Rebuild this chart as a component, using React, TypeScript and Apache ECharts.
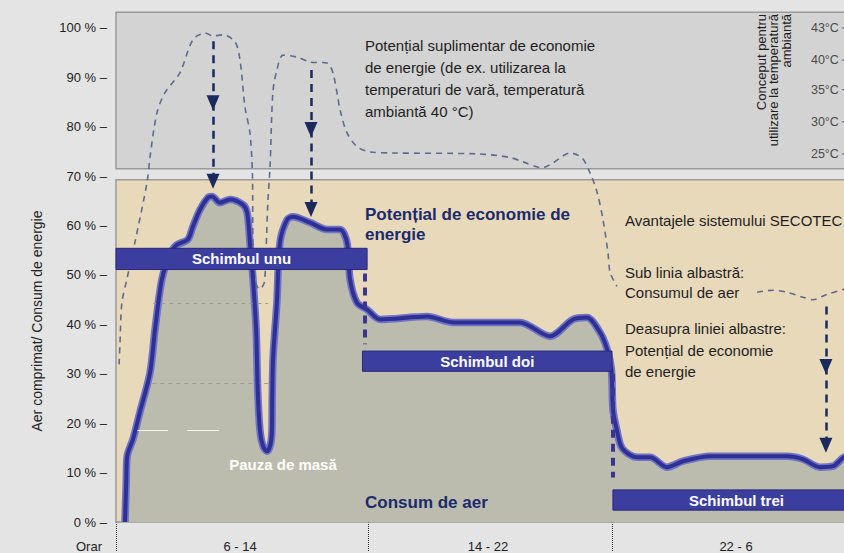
import React, { useEffect, useRef } from 'react';
import * as echarts from 'echarts';

const FONT = '"Liberation Sans", Arial, Helvetica, sans-serif';

// x axis: hours from start of first shift (0..24), y axis: percent
const shiftLabels = ['6 - 14', '14 - 22', '22 - 6'];
const shiftLabelHours = [4, 12, 20];
const shiftBoundaries = [0, 8.15, 16];

const tempLabels = ['43°C', '40°C', '35°C', '30°C', '25°C'];
const tempLevels = [100, 93.5, 87.5, 81, 74.5];
const tempHour = 23.48;

// air consumption curve (blue line)
const consumption: [number, number][] = [
  [0.29, 0], [0.33, 8], [0.36, 13.3], [0.55, 16.8], [0.77, 22.2], [1.1, 30.3], [1.26, 39],
  [1.48, 49.1], [1.74, 54.1], [1.94, 56], [2.32, 57.2], [2.48, 59.8], [2.71, 63.2], [2.97, 65.7],
  [3.1, 65.9], [3.35, 64.6], [3.68, 65.3], [4.1, 64.2], [4.23, 62.6], [4.32, 56.6], [4.42, 49.1],
  [4.52, 39], [4.57, 26.9], [4.64, 18.8], [4.74, 15.4], [4.87, 14.3], [4.98, 15.6], [5.03, 18.5],
  [5.04, 25.5], [5.07, 33.5], [5.19, 44.4], [5.29, 56.6], [5.52, 61.2], [5.71, 61.8], [6.26, 60.6],
  [6.81, 59.2], [7.23, 59.2], [7.45, 56.6], [7.55, 49.1], [7.77, 44.4], [8.1, 43], [8.52, 41],
  [10.03, 41.6], [10.87, 40.4], [13.03, 40.4], [14.0, 37.6], [14.74, 41], [15.19, 41.4],
  [15.61, 38.4], [15.84, 35], [15.98, 30.9], [16.03, 22.8], [16.15, 18.8], [16.33, 14.9],
  [16.81, 13.1], [17.23, 13.1], [17.77, 11.1], [18.29, 12.3], [19.16, 13.3], [20.77, 13.3],
  [21.65, 13.3], [22.16, 12.7], [22.71, 11.1], [23.13, 11.3], [23.48, 13.1], [24, 14],
];

// additional potential at summer temperature (dashed line)
const potential: [number, number | string][] = [
  [0.1, 31.9], [0.13, 36.4], [0.19, 44.4], [0.35, 49.1], [0.61, 56.6], [1.0, 68.7], [1.1, 74],
  [1.32, 82.8], [1.58, 86.9], [2.06, 90.9], [2.48, 97.6], [2.87, 99.0], [3.13, 98.4], [3.45, 98.6],
  [3.84, 97.2], [4.0, 93.5], [4.16, 84.0], [4.32, 78.8], [4.4, 70.7], [4.42, 55], [4.5, 48.5],
  [4.63, 47.1], [4.78, 48.4], [4.84, 55], [4.9, 65], [4.97, 72], [5.06, 86.9], [5.19, 91.5],
  [5.39, 94.5], [5.84, 94.1], [6.26, 93.1], [6.81, 92.9], [7.0, 90.9], [7.23, 83.4], [7.45, 78.8],
  [7.77, 76.0], [8.19, 74.9], [8.94, 74.7], [11.7, 74.5], [12.7, 73.8], [13.13, 72.9],
  [13.74, 71.7], [14.1, 72.7], [14.65, 74.7], [15.03, 73.7], [15.29, 70.7], [15.52, 66.7],
  [15.71, 61.2], [15.87, 54.5], [15.94, 50.5], [16.16, 47.7], [16.4, '-'], [20.68, 46.5],
  [21.19, 46.9], [21.65, 46.5], [22.16, 45.5], [22.48, 45.0], [22.94, 46.1], [23.48, 47.1],
  [24, 47.9],
];

// shift bars
const shiftNames = ['Schimbul unu', 'Schimbul doi', 'Schimbul trei'];
const shiftFrom = [0, 7.95, 16.03];
const shiftTo = [8.1, 16.0, 24];
const shiftLow = [51.1, 30.5, 2.4];
const shiftHigh = [55.4, 34.6, 6.5];

// shift change connectors [hour, from %, to %]
const connectors: [number, number, number][] = [
  [8.03, 50.3, 36],
  [16.03, 30, 9],
];

// arrows [hour, start %, middle tip %, end tip %]
const arrows: [number, number, number, number][] = [
  [3.13, 97.3, 83.4, 67.5],
  [6.29, 91.5, 78, 61.8],
  [22.9, 43.6, 30, 14.1],
];

// light guide lines inside the grey area [fromHour, toHour, %]
const greyGuides: [number, number, number][] = [
  [1.2, 4.9, 44.2],
  [1.17, 5.0, 28],
];
const whiteGuides: [number, number, number][] = [
  [0.65, 1.68, 18.6],
  [2.29, 3.32, 18.6],
];

// boxes (% ranges)
const topBox = [71.5, 103.2];
const bottomBox = [0, 69.3];

export default function App() {
  const ref = useRef<HTMLDivElement>(null);
  useEffect(() => {
    if (!ref.current) return;
    const chart = echarts.init(ref.current, null, { renderer: 'svg' });
    const tip = 1.45; // arrow triangle half height in %
    const option: any = {
      animation: false,
      backgroundColor: '#e4e4e4',
      textStyle: { fontFamily: FONT },
      grid: { left: 116, right: 0, top: 8.2, bottom: 30 },
      xAxis: {
        type: 'value',
        min: 0,
        max: 24,
        axisLine: { show: false },
        splitLine: { show: false },
        axisTick: {
          show: true,
          customValues: shiftBoundaries,
          length: 30,
          lineStyle: { color: '#333', type: 'dotted', width: 1 },
        },
        axisLabel: {
          customValues: shiftLabelHours,
          formatter: (v: number) => {
            const i = shiftLabelHours.indexOf(v);
            return i >= 0 ? shiftLabels[i] : '';
          },
          margin: 18,
          fontSize: 13,
          color: '#222',
          verticalAlign: 'top',
        },
      },
      yAxis: {
        type: 'value',
        min: 0,
        max: 104,
        interval: 10,
        axisLine: { show: false },
        axisTick: { show: false },
        splitLine: { show: false },
        axisLabel: {
          formatter: (v: number) => (v <= 100 ? `${v} % –` : ''),
          margin: 9,
          fontSize: 13,
          color: '#222',
        },
      },
      graphic: [
        {
          type: 'text', x: 365, y: 34, z: 100,
          style: {
            text: 'Potențial suplimentar de economie\nde energie (de ex. utilizarea la\ntemperaturi de vară, temperatură\nambiantă 40 °C)',
            fontSize: 15, lineHeight: 22, fill: '#1e1e1e', fontFamily: FONT,
          },
        },
        {
          type: 'text', x: 755, y: 14, z: 100, rotation: Math.PI / 2,
          style: {
            text: 'Conceput pentru\nutilizare la temperatură\nambiantă',
            fontSize: 13, lineHeight: 12.5, fill: '#1e1e1e', fontFamily: FONT,
            align: 'right', verticalAlign: 'top',
          },
        },
        {
          type: 'text', x: 365, y: 204, z: 100,
          style: {
            text: 'Potențial de economie de\nenergie',
            fontSize: 17, fontWeight: 'bold', lineHeight: 20, fill: '#1b2a6b', fontFamily: FONT,
          },
        },
        {
          type: 'text', x: 625, y: 209.5, z: 100,
          style: { text: 'Avantajele sistemului SECOTEC', fontSize: 15, lineHeight: 21, fill: '#1e1e1e', fontFamily: FONT },
        },
        {
          type: 'text', x: 625, y: 262, z: 100,
          style: { text: 'Sub linia albastră:\nConsumul de aer', fontSize: 15, lineHeight: 20, fill: '#1e1e1e', fontFamily: FONT },
        },
        {
          type: 'text', x: 625, y: 318, z: 100,
          style: {
            text: 'Deasupra liniei albastre:\nPotențial de economie\nde energie',
            fontSize: 15, lineHeight: 21.5, fill: '#1e1e1e', fontFamily: FONT,
          },
        },
        {
          type: 'text', x: 283, y: 464, z: 100,
          style: {
            text: 'Pauza de masă', fontSize: 15, fontWeight: 'bold', fill: '#ffffff', fontFamily: FONT,
            align: 'center', verticalAlign: 'middle',
          },
        },
        {
          type: 'text', x: 365, y: 502, z: 100,
          style: {
            text: 'Consum de aer', fontSize: 17, fontWeight: 'bold', fill: '#1b2a6b', fontFamily: FONT,
            verticalAlign: 'middle',
          },
        },
        {
          type: 'text', x: 89, y: 540, z: 100,
          style: { text: 'Orar', fontSize: 13, fill: '#222', fontFamily: FONT, align: 'center', verticalAlign: 'top' },
        },
        {
          type: 'text', x: 37, y: 321, z: 100, rotation: Math.PI / 2,
          style: {
            text: 'Aer comprimat/ Consum de energie', fontSize: 14, fill: '#222', fontFamily: FONT,
            align: 'center', verticalAlign: 'middle',
          },
        },
      ],
      series: [
        {
          type: 'line',
          name: 'frame',
          data: [],
          clip: false,
          silent: true,
          markArea: {
            silent: true,
            z: 1,
            data: [
              [
                { xAxis: 0, yAxis: topBox[0], itemStyle: { color: '#d3d3d3', borderColor: '#9a9a9a', borderWidth: 1.5 } },
                { xAxis: 24, yAxis: topBox[1] },
              ],
              [
                { xAxis: 0, yAxis: bottomBox[0], itemStyle: { color: '#e9d9bb', borderColor: '#9a9a9a', borderWidth: 1.5 } },
                { xAxis: 24, yAxis: bottomBox[1] },
              ],
            ],
          },
        },
        {
          type: 'line',
          name: 'area',
          data: consumption,
          smooth: 0.3,
          symbol: 'none',
          silent: true,
          z: 2,
          lineStyle: { width: 7.5, color: '#7073c6' },
          areaStyle: { color: '#bcbcae', opacity: 1 },
        },
        {
          type: 'line',
          name: 'guides',
          data: [],
          silent: true,
          markLine: {
            silent: true,
            z: 3,
            symbol: ['none', 'none'],
            label: { show: false },
            data: [
              ...greyGuides.map(([a, b, y]) => [
                { coord: [a, y], lineStyle: { color: '#9c9c94', width: 1, type: [4, 4] } },
                { coord: [b, y] },
              ]),
              ...whiteGuides.map(([a, b, y]) => [
                { coord: [a, y], lineStyle: { color: '#f4f4f0', width: 1.2, type: 'solid' } },
                { coord: [b, y] },
              ]),
            ],
          },
        },
        {
          type: 'line',
          name: 'potential',
          data: potential,
          smooth: 0.3,
          symbol: 'none',
          connectNulls: false,
          silent: true,
          z: 4,
          lineStyle: { width: 1.6, color: '#5d6b8e', type: [6, 5] },
        },
        {
          type: 'line',
          name: 'consumption',
          data: consumption,
          smooth: 0.3,
          symbol: 'none',
          silent: true,
          z: 5,
          lineStyle: { width: 4, color: '#2e3094' },
        },
        {
          type: 'line',
          name: 'shifts',
          data: [],
          silent: true,
          clip: false,
          markArea: {
            silent: true,
            z: 6,
            label: { show: true, position: 'inside', color: '#ffffff', fontWeight: 'bold', fontSize: 15, fontFamily: FONT },
            itemStyle: { color: '#3b3e9f', borderColor: '#28297a', borderWidth: 1 },
            data: shiftNames.map((n, i) => [
              { name: n, xAxis: shiftFrom[i], yAxis: shiftHigh[i] },
              { xAxis: shiftTo[i], yAxis: shiftLow[i] },
            ]),
          },
          markLine: {
            silent: true,
            z: 7,
            symbol: ['none', 'none'],
            label: { show: false },
            lineStyle: { color: '#3b3590', width: 4, type: [8, 6] },
            data: connectors.map(([x, a, b]) => [{ coord: [x, a] }, { coord: [x, b] }]),
          },
        },
        {
          type: 'line',
          name: 'arrows',
          data: [],
          silent: true,
          markLine: {
            silent: true,
            z: 8,
            symbol: ['none', 'triangle'],
            symbolSize: [13, 15],
            label: { show: false },
            lineStyle: { color: '#1b2a5e', width: 2.5, type: [8, 6] },
            data: arrows.flatMap(([x, s, m, e]) => [
              [{ coord: [x, s] }, { coord: [x, m + tip] }],
              [{ coord: [x, m + tip] }, { coord: [x, e + tip] }],
            ]),
          },
        },
        {
          type: 'scatter',
          name: 'temperature',
          silent: true,
          z: 9,
          symbol: 'rect',
          symbolSize: [4, 1],
          itemStyle: { color: '#444' },
          data: tempLevels.map((l, i) => ({ value: [tempHour, l], name: tempLabels[i] })),
          label: {
            show: true,
            position: 'left',
            distance: 3,
            formatter: '{b}',
            fontSize: 12.5,
            color: '#222',
            fontFamily: FONT,
          },
        },
      ],
    };
    chart.setOption(option);
    return () => chart.dispose();
  }, []);
  // the chart runs 16px past the right edge of the 844px window, as in the reference
  return (
    <div
      ref={ref}
      style={{ position: 'fixed', left: 0, top: 0, width: 860, height: 553 }}
    />
  );
}
